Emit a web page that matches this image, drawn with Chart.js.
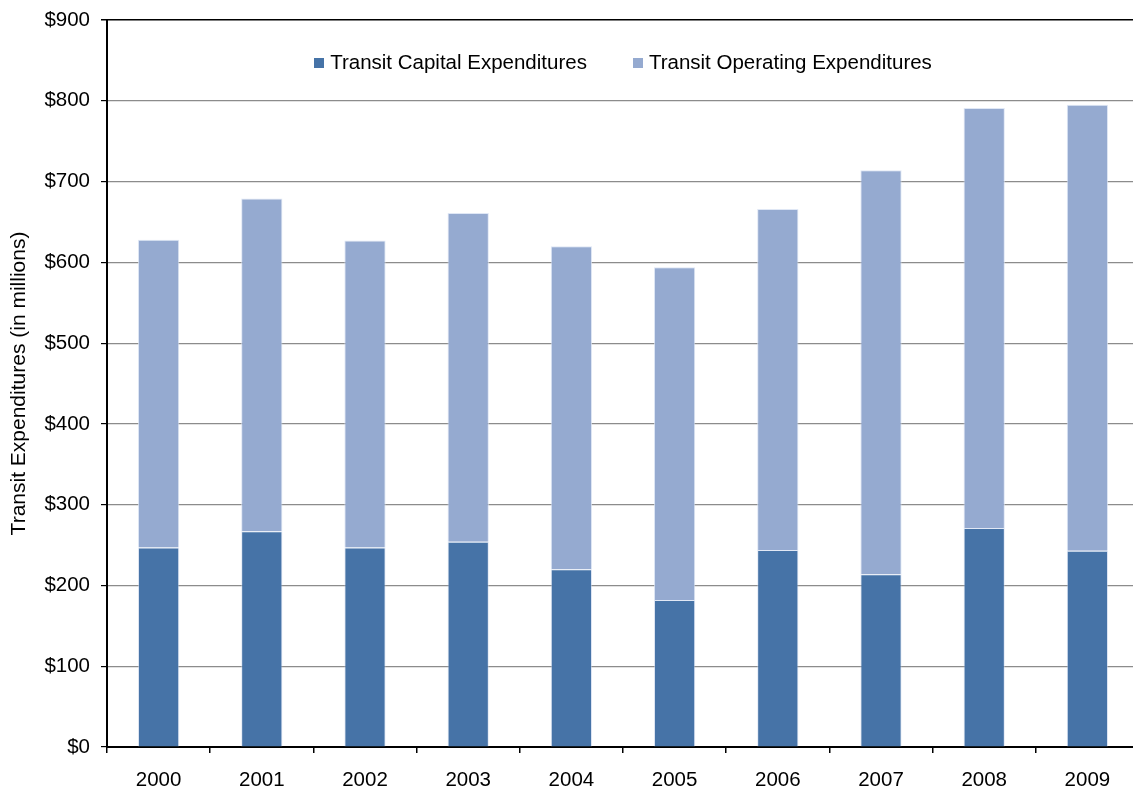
<!DOCTYPE html>
<html>
<head>
<meta charset="utf-8">
<title>Transit Expenditures 2000-2009</title>
<script src="https://cdn.jsdelivr.net/npm/chart.js@4/dist/chart.umd.min.js"></script>
<style>
  html, body { margin: 0; padding: 0; background: #fff; overflow: hidden; }
  #wrap { position: relative; width: 1140px; height: 789px; }
</style>
</head>
<body>
<div id="wrap"><canvas id="chart"></canvas></div>
<script>
// Annual transit spending, millions of dollars
const years = ['2000', '2001', '2002', '2003', '2004', '2005', '2006', '2007', '2008', '2009'];
const capitalExpenditures   = [247, 267, 247, 254, 220, 182, 244, 214, 271, 243];
const operatingExpenditures = [381, 412, 380, 407, 400, 412, 422, 500, 520, 552];
const seriesLabels = ['Transit Capital Expenditures', 'Transit Operating Expenditures'];
const yAxisTitle = 'Transit Expenditures (in millions)';
const yMin = 0, yMax = 900, yStep = 100;

const FONT = 'Arial, "Liberation Sans", Helvetica, sans-serif';
const FONT_SIZE = 20.5;

// Legend drawn inside the plot area, centred near the top
const innerLegend = {
  id: 'innerLegend',
  afterDraw(chart) {
    const { ctx, chartArea } = chart;
    const box = 10, gapText = 6, gapItem = 46;
    ctx.save();
    ctx.font = FONT_SIZE + 'px ' + FONT;
    ctx.textBaseline = 'middle';
    ctx.textAlign = 'left';
    const items = chart.data.datasets.map(ds => ({
      label: ds.label, color: ds.backgroundColor,
      w: box + gapText + ctx.measureText(ds.label).width
    }));
    const total = items.reduce((s, it) => s + it.w, 0) + gapItem * (items.length - 1);
    let x = (chartArea.left + chartArea.right) / 2 - total / 2;
    const y = 62.5;
    items.forEach(it => {
      ctx.fillStyle = it.color;
      ctx.fillRect(Math.round(x), Math.round(y - box / 2), box, box);
      ctx.fillStyle = '#000';
      ctx.fillText(it.label, x + box + gapText, y + 1);
      x += it.w + gapItem;
    });
    ctx.restore();
  }
};

new Chart(document.getElementById('chart'), {
  type: 'bar',
  data: {
    labels: years,
    datasets: [
      {
        label: seriesLabels[0],
        data: capitalExpenditures,
        backgroundColor: '#4673A7',
        borderColor: 'rgba(200,214,236,0.55)',
        borderWidth: 1,
        borderSkipped: 'start'
      },
      {
        label: seriesLabels[1],
        data: operatingExpenditures,
        backgroundColor: '#95AAD0',
        borderColor: 'rgba(215,225,242,0.8)',
        borderWidth: 1,
        borderSkipped: 'start'
      }
    ]
  },
  options: {
    responsive: true,
    maintainAspectRatio: false,
    animation: false,
    devicePixelRatio: 1,
    layout: { padding: { top: 20, right: 1, left: 0, bottom: 0 } },
    plugins: {
      legend: { display: false },
      tooltip: { enabled: false }
    },
    datasets: {
      bar: { categoryPercentage: 1, barPercentage: 0.4 }
    },
    scales: {
      x: {
        stacked: true,
        afterFit(scale) { scale.height = 42; },
        grid: {
          display: true,
          offset: true,
          drawOnChartArea: false,
          drawTicks: true,
          tickLength: 6,
          color: '#000',
          tickColor: '#000',
          lineWidth: 1.5
        },
        border: { display: true, color: '#000', width: 2 },
        ticks: {
          color: '#000',
          padding: 15,
          font: { family: FONT, size: FONT_SIZE }
        }
      },
      y: {
        stacked: true,
        min: yMin,
        max: yMax,
        afterFit(scale) {
          scale.width = 107;
          // label overhang fits inside the layout padding
          scale.paddingTop = 12;
          scale.paddingBottom = 12;
        },
        grid: {
          color: ctx => (ctx.tick && ctx.tick.value === yMax) ? '#000' : '#8c8c8c',
          lineWidth: ctx => (ctx.tick && ctx.tick.value === yMax) ? 1.5 : 1.2,
          tickColor: '#000',
          tickLength: 6,
          drawTicks: true
        },
        border: { display: true, color: '#000', width: 2 },
        ticks: {
          stepSize: yStep,
          color: '#000',
          padding: 11,
          font: { family: FONT, size: FONT_SIZE },
          callback: v => '$' + v
        },
        title: {
          display: true,
          text: yAxisTitle,
          color: '#000',
          padding: { top: 7, bottom: 0 },
          font: { family: FONT, size: 21 }
        }
      }
    }
  },
  plugins: [innerLegend]
});
</script>
</body>
</html>
